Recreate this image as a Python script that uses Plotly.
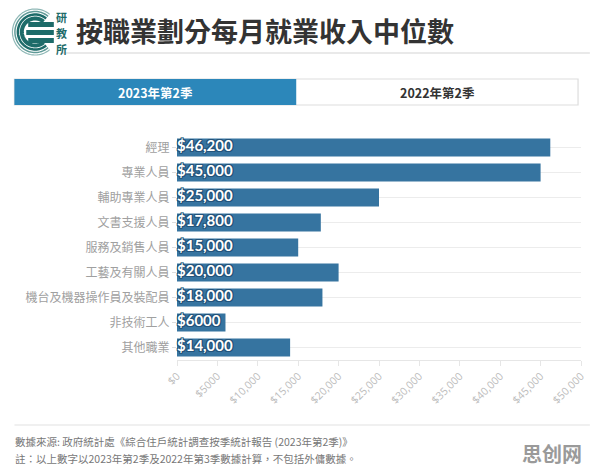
import math
import plotly.graph_objects as go

# ---------------- data ----------------
categories = ["經理", "專業人員", "輔助專業人員", "文書支援人員", "服務及銷售人員",
              "工藝及有關人員", "機台及機器操作員及裝配員", "非技術工人", "其他職業"]
income_2023q2 = [46200, 45000, 25000, 17800, 15000, 20000, 18000, 6000, 14000]
x_tick_values = [0, 5000, 10000, 15000, 20000, 25000, 30000, 35000, 40000, 45000, 50000]
x_tick_labels = ["$0", "$5000", "$10,000", "$15,000", "$20,000", "$25,000",
                 "$30,000", "$35,000", "$40,000", "$45,000", "$50,000"]
title_text = "按職業劃分每月就業收入中位數"
tab_labels = ["2023年第2季", "2022年第2季"]
source_text = "數據來源: 政府統計處《綜合住戶統計調查按季統計報告 (2023年第2季)》"
note_text = "註：以上數字以2023年第2季及2022年第3季數據計算，不包括外傭數據。"


def money(v):
    return f"${v:,}" if v >= 10000 else f"${v}"


bar_labels = [money(v) for v in income_2023q2]

# ---------------- layout geometry ----------------
W, H = 596, 472
ML, MR, MT, MB = 177, 9, 135, 112
PW, PH = W - ML - MR, H - MT - MB


def px(x):
    return (x - ML) / PW


def py(y):
    return (H - MB - y) / PH


BAR = "#3674a0"
TEAL = "#1d6b69"
CJK = "Noto Sans CJK TC"

fig = go.Figure()
fig.add_trace(go.Bar(
    x=income_2023q2, y=categories, orientation="h",
    marker=dict(color=BAR, line=dict(width=0)),
    hoverinfo="skip",
))
shadow = ", ".join(f"{a}px {b}px 0 #23537a" for a, b in
                   [(-1, -1), (1, -1), (-1, 1), (1, 1), (0, 1), (0, -1), (1, 0), (-1, 0)])
fig.add_trace(go.Scatter(
    x=[0] * len(categories), y=categories, text=bar_labels, mode="text",
    textposition="middle right",
    textfont=dict(family="Lato", size=15, color="white", weight=700, shadow=shadow),
    cliponaxis=False, hoverinfo="skip",
))

shapes = []
annotations = []

# title underline
shapes.append(dict(type="line", xref="paper", yref="paper",
                   x0=px(60), x1=px(596), y0=py(53), y1=py(53),
                   line=dict(color="#e2e2e2", width=1.5)))

# logo: concentric arcs opening to the right
cx, cy = 33, 32


def arc(r, a0=50, a1=310, n=60):
    pts = []
    for i in range(n + 1):
        a = math.radians(a0 + (a1 - a0) * i / n)
        x = cx + r * math.cos(a)
        y = cy - r * math.sin(a)
        pts.append((px(x), py(y)))
    return "M " + " L ".join(f"{a:.5f},{b:.5f}" for a, b in pts)


for r, w, c in [(23, 1.2, "#8fb8b6"), (20.5, 1.5, "#5f9a97"), (17.5, 2.5, TEAL), (13.5, 4, TEAL)]:
    shapes.append(dict(type="path", xref="paper", yref="paper", path=arc(r),
                       line=dict(color=c, width=w)))
for (y0, y1, x0) in [(22, 27, 26), (30, 35, 24), (38, 43, 26)]:
    shapes.append(dict(type="rect", xref="paper", yref="paper",
                       x0=px(x0), x1=px(52), y0=py(y1), y1=py(y0),
                       fillcolor=TEAL, line=dict(width=0)))
for ch, yy in zip("研教所", [17, 33, 49]):
    annotations.append(dict(text=ch, xref="paper", yref="paper", x=px(60), y=py(yy),
                            showarrow=False, xanchor="center", yanchor="middle",
                            font=dict(family=CJK, size=11, color=TEAL, weight=700)))

# title
annotations.append(dict(text=title_text, xref="paper", yref="paper", x=px(72), y=py(31),
                        showarrow=False, xanchor="left", yanchor="middle",
                        font=dict(family=CJK, size=27, color="#333333", weight=700)))

# tabs
shapes.append(dict(type="rect", xref="paper", yref="paper",
                   x0=px(12), x1=px(584), y0=py(105), y1=py(79),
                   fillcolor="white", line=dict(color="#dddddd", width=1.2)))
shapes.append(dict(type="rect", xref="paper", yref="paper",
                   x0=px(12), x1=px(298), y0=py(105), y1=py(79),
                   fillcolor="#2c87ba", line=dict(width=0)))
annotations.append(dict(text=tab_labels[0], xref="paper", yref="paper", x=px(155), y=py(92),
                        showarrow=False, xanchor="center", yanchor="middle",
                        font=dict(family=CJK, size=12.5, color="white", weight=700)))
annotations.append(dict(text=tab_labels[1], xref="paper", yref="paper", x=px(441), y=py(92),
                        showarrow=False, xanchor="center", yanchor="middle",
                        font=dict(family=CJK, size=12.5, color="#333333", weight=700)))

# footer
shapes.append(dict(type="line", xref="paper", yref="paper",
                   x0=px(12), x1=px(596), y0=py(425), y1=py(425),
                   line=dict(color="#e2e2e2", width=1.2)))
annotations.append(dict(text=source_text, xref="paper", yref="paper", x=px(11), y=py(441),
                        showarrow=False, xanchor="left", yanchor="middle",
                        font=dict(family=CJK, size=10.5, color="#777777")))
annotations.append(dict(text=note_text, xref="paper", yref="paper", x=px(11), y=py(458),
                        showarrow=False, xanchor="left", yanchor="middle",
                        font=dict(family=CJK, size=10.5, color="#777777")))
annotations.append(dict(text="思创网", xref="paper", yref="paper", x=px(590), y=py(453),
                        showarrow=False, xanchor="right", yanchor="middle",
                        font=dict(family="Noto Sans CJK SC", size=20, color="#9a9a9a", weight=700)))

fig.update_layout(
    width=W, height=H,
    margin=dict(l=ML, r=MR, t=MT, b=MB, pad=0),
    paper_bgcolor="white", plot_bgcolor="white",
    showlegend=False, bargap=0.28,
    shapes=shapes, annotations=annotations,
    xaxis=dict(range=[0, 50000], tickvals=x_tick_values, ticktext=x_tick_labels,
               tickangle=-45, showgrid=False, zeroline=False,
               showline=True, linecolor="#e6e6e6", linewidth=1,
               ticks="outside", ticklen=5, tickcolor="#e6e6e6",
               tickfont=dict(family="Open Sans", size=10.5, color="#bbbbbb")),
    yaxis=dict(autorange="reversed", showgrid=True, gridcolor="#ececec", gridwidth=1,
               zeroline=False, showline=False,
               ticks="outside", ticklen=4, tickcolor="#dddddd",
               tickfont=dict(family=CJK, size=12, color="#a0a0a0")),
)

fig.write_html("out.html")
